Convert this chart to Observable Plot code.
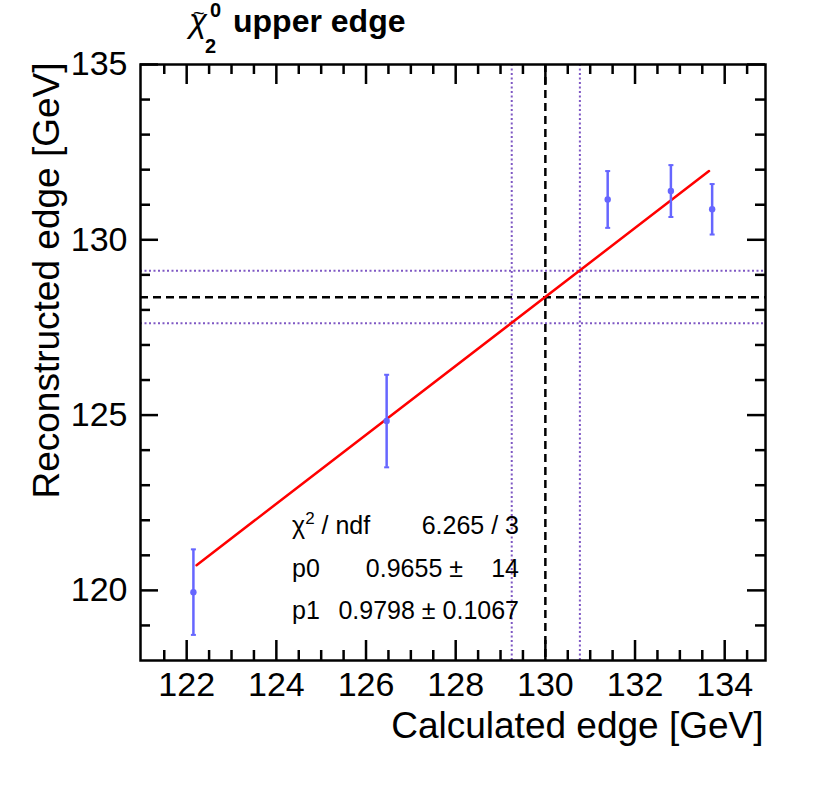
<!DOCTYPE html>
<html><head><meta charset="utf-8">
<script src="https://cdn.jsdelivr.net/npm/d3@7"></script>
<script src="https://cdn.jsdelivr.net/npm/@observablehq/plot@0.6"></script>
<style>body{margin:0;background:#fff}</style>
</head><body><div id="chart"></div>
<script>
// ---- data ----
const calcEdge = [122.15, 126.46, 131.39, 132.80, 133.72];
const recoEdge = [119.95, 124.83, 131.15, 131.39, 130.87];
const recoErr  = [1.22, 1.32, 0.81, 0.74, 0.72];
const fitX = [122.22, 133.65];
const fitY = [120.72, 131.96];
const centralX = [130];
const centralY = [128.36];
const bandX = [129.25, 130.77];
const bandY = [127.62, 129.12];
const xMajor = [122, 124, 126, 128, 130, 132, 134];
const xMinor = [121.5, 122.5, 123, 123.5, 124.5, 125, 125.5, 126.5, 127, 127.5, 128.5, 129, 129.5, 130.5, 131, 131.5, 132.5, 133, 133.5, 134.5];
const yMajor = [120, 125, 130, 135];
const yMinor = [119, 121, 122, 123, 124, 126, 127, 128, 129, 131, 132, 133, 134];
const statLabels = ["p0", "p1"];
const statValues = ["0.9798 \u00b1 0.1067"];

const points = calcEdge.map((x, i) => ({x, y: recoEdge[i], e: recoErr[i]}));
const fit = fitX.map((x, i) => ({x, y: fitY[i]}));

const W = 830, H = 806, mL = 140, mR = 65, mT = 64, mB = 146;
const fw = W - mL - mR, fh = H - mT - mB;
const FONT = "Liberation Sans, Arial, Helvetica, sans-serif";
const blue = "#6666ff", violet = "#7f58c4";
const capSymbol = {draw(ctx, size) { const r = Math.sqrt(size / Math.PI); ctx.moveTo(-r, 0); ctx.lineTo(r, 0); }};
const tk = {stroke: "black", strokeWidth: 2.5};

const chart = Plot.plot({
  width: W, height: H,
  marginLeft: mL, marginRight: mR, marginTop: mT, marginBottom: mB,
  x: {domain: [120.97, 134.91], axis: null},
  y: {domain: [118, 135], axis: null},
  style: {fontFamily: FONT, background: "white", color: "black"},
  marks: [
    Plot.ruleX(bandX, {stroke: violet, strokeWidth: 2, strokeDasharray: "2,2.5"}),
    Plot.ruleY(bandY, {stroke: violet, strokeWidth: 2, strokeDasharray: "2,2.5"}),
    Plot.ruleX(centralX, {stroke: "black", strokeWidth: 2.5, strokeDasharray: "8,5"}),
    Plot.ruleY(centralY, {stroke: "black", strokeWidth: 2.5, strokeDasharray: "8,5"}),
    Plot.line(fit, {x: "x", y: "y", stroke: "#ff0000", strokeWidth: 2.5}),
    Plot.ruleX(points, {x: "x", y1: d => d.y - d.e, y2: d => d.y + d.e, stroke: blue, strokeWidth: 2.5}),
    Plot.dot(points, {x: "x", y: d => d.y + d.e, symbol: capSymbol, r: 2.5, stroke: blue, strokeWidth: 2, fill: "none"}),
    Plot.dot(points, {x: "x", y: d => d.y - d.e, symbol: capSymbol, r: 2.5, stroke: blue, strokeWidth: 2, fill: "none"}),
    Plot.dot(points, {x: "x", y: "y", r: 3.2, fill: blue, stroke: "none"}),
    // ticks (inward, all four sides)
    Plot.tickX(xMajor, {x: d => d, insetTop: fh - 20, ...tk}),
    Plot.tickX(xMinor, {x: d => d, insetTop: fh - 10, ...tk}),
    Plot.tickX(xMajor, {x: d => d, insetBottom: fh - 20, ...tk}),
    Plot.tickX(xMinor, {x: d => d, insetBottom: fh - 10, ...tk}),
    Plot.tickY(yMajor, {y: d => d, insetRight: fw - 18, ...tk}),
    Plot.tickY(yMinor, {y: d => d, insetRight: fw - 10, ...tk}),
    Plot.tickY(yMajor, {y: d => d, insetLeft: fw - 18, ...tk}),
    Plot.tickY(yMinor, {y: d => d, insetLeft: fw - 10, ...tk}),
    Plot.frame({stroke: "black", strokeWidth: 2.5}),
    // tick labels
    Plot.text(xMajor, {x: d => d, text: d => String(d), frameAnchor: "bottom", lineAnchor: "bottom", dy: 35, fontSize: 34, fill: "black"}),
    Plot.text(yMajor, {y: d => d, text: d => String(d), frameAnchor: "left", textAnchor: "end", lineAnchor: "middle", dx: -13, fontSize: 34, fill: "black"}),
    // axis titles
    Plot.text(["Calculated edge [GeV]"], {frameAnchor: "bottom-right", textAnchor: "end", lineAnchor: "bottom", dx: -2, dy: 77, fontSize: 37, fill: "black"}),
    Plot.text(["Reconstructed edge [GeV]"], {frameAnchor: "top-left", textAnchor: "end", lineAnchor: "bottom", rotate: -90, dx: -82, dy: -2, fontSize: 37, fill: "black"})
  ]
});

const svg = d3.select(chart);
// title
const tg = svg.append("g").attr("font-family", FONT).attr("font-weight", "bold").attr("fill", "black").attr("text-anchor", "start");
tg.append("text").attr("x", 189).attr("y", 32).attr("font-size", 33).attr("font-style", "italic").attr("font-weight", "normal").text("\u03c7");
tg.append("text").attr("x", 193).attr("y", 20).attr("font-size", 20).attr("font-weight", "normal").text("~");
tg.append("text").attr("x", 205).attr("y", 53).attr("font-size", 20).text("2");
tg.append("text").attr("x", 210).attr("y", 17).attr("font-size", 20).text("0");
tg.append("text").attr("x", 233).attr("y", 32).attr("font-size", 32).text("upper edge");

// fit statistics
const sg = svg.append("g").attr("font-family", FONT).attr("font-size", 25).attr("fill", "black").attr("text-anchor", "start");
const chi = sg.append("text").attr("x", 292).attr("y", 534);
chi.append("tspan").text("\u03c7");
chi.append("tspan").attr("font-size", 17).attr("dy", -10).text("2");
chi.append("tspan").attr("dy", 10).text(" / ndf");
sg.append("text").attr("x", 519).attr("y", 534).attr("text-anchor", "end").text("6.265 / 3");
sg.append("text").attr("x", 292).attr("y", 577).text(statLabels[0]);
sg.append("text").attr("x", 463).attr("y", 577).attr("text-anchor", "end").text("0.9655 \u00b1");
sg.append("text").attr("x", 519).attr("y", 577).attr("text-anchor", "end").text("14");
sg.append("text").attr("x", 292).attr("y", 619).text(statLabels[1]);
sg.append("text").attr("x", 519).attr("y", 619).attr("text-anchor", "end").text(statValues[0]);

document.getElementById("chart").appendChild(chart);
</script>
</body></html>
